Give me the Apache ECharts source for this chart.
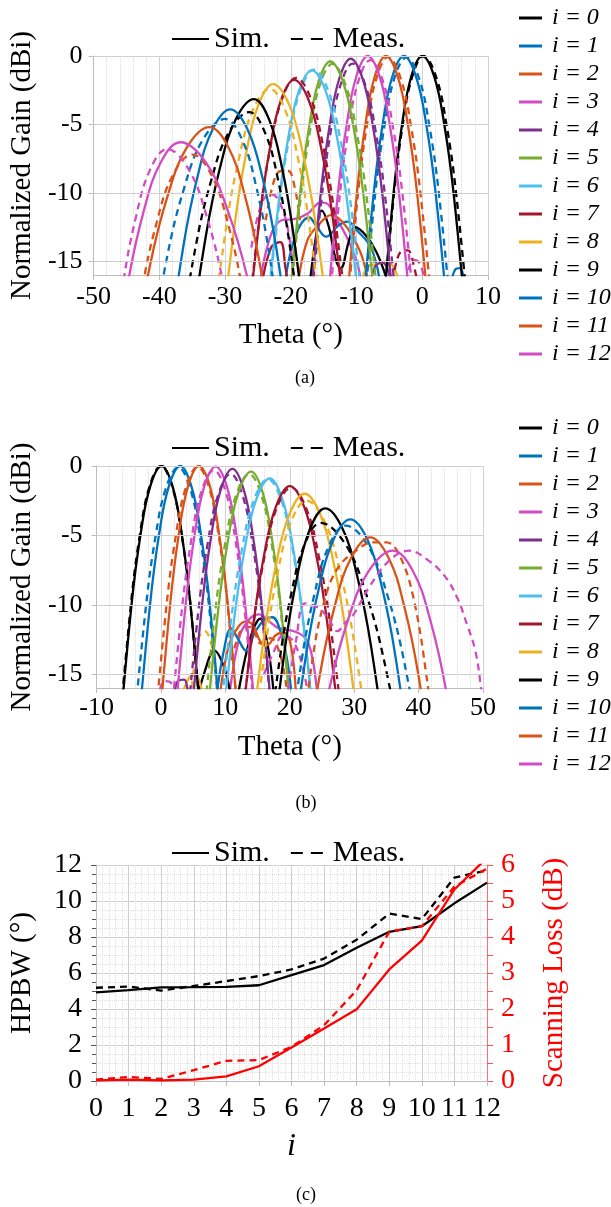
<!DOCTYPE html>
<html><head><meta charset="utf-8">
<script src="https://cdn.jsdelivr.net/npm/echarts@6.0.0/dist/echarts.min.js"></script>
<style>html,body{margin:0;padding:0;background:#fff}#c{width:611px;height:1207px}</style>
</head><body><div id="c"></div>
<script>
// ---------- data ----------
const steps = [0,1,2,3,4,5,6,7,8,9,10,11,12];
const majorY = [-15,-10,-5,0];

// panel (a): simulated main beams [theta, gain]
const simA = [
 [[-6.19,-20],[-4.36,-10],[-3.07,-5],[-1.67,-1.5],[0,0],[1.82,-1.5],[3.35,-5],[4.76,-10],[6.76,-20]],
 [[-9.3,-20],[-7.38,-10],[-6.03,-5],[-4.55,-1.5],[-2.8,0],[-0.95,-1.5],[0.61,-5],[2.03,-10],[4.06,-20]],
 [[-11.79,-20],[-9.94,-10],[-8.65,-5],[-7.23,-1.5],[-5.55,0],[-3.73,-1.5],[-2.2,-5],[-0.79,-10],[1.21,-20]],
 [[-14.72,-20],[-12.82,-10],[-11.49,-5],[-10.03,-1.5],[-8.3,0],[-6.48,-1.5],[-4.95,-5],[-3.54,-10],[-1.54,-20]],
 [[-17.4,-20.2],[-15.48,-10.2],[-14.13,-5.2],[-12.65,-1.7],[-10.9,-0.2],[-9.04,-1.7],[-7.48,-5.2],[-6.05,-10.2],[-4.01,-20.2]],
 [[-20.63,-20.4],[-18.67,-10.4],[-17.29,-5.4],[-15.79,-1.9],[-14,-0.4],[-12.04,-1.9],[-10.39,-5.4],[-8.88,-10.4],[-6.72,-20.4]],
 [[-24.08,-21.05],[-21.92,-11.05],[-20.41,-6.05],[-18.76,-2.55],[-16.8,-1.05],[-14.7,-2.55],[-12.93,-6.05],[-11.31,-11.05],[-9,-21.05]],
 [[-26.91,-21.75],[-24.72,-11.75],[-23.18,-6.75],[-21.5,-3.25],[-19.5,-1.75],[-17.26,-3.25],[-15.37,-6.75],[-13.64,-11.75],[-11.18,-21.75]],
 [[-30.89,-22.05],[-28.46,-12.05],[-26.76,-7.05],[-24.91,-3.55],[-22.7,-2.05],[-20.25,-3.55],[-18.18,-7.05],[-16.29,-12.05],[-13.6,-22.05]],
 [[-36,-23.15],[-32.92,-13.15],[-30.76,-8.15],[-28.4,-4.65],[-25.6,-3.15],[-23.29,-4.65],[-21.34,-8.15],[-19.56,-13.15],[-17.02,-23.15]],
 [[-39.34,-23.9],[-36.34,-13.9],[-34.23,-8.9],[-31.93,-5.4],[-29.2,-3.9],[-26.54,-5.4],[-24.3,-8.9],[-22.25,-13.9],[-19.32,-23.9]],
 [[-45.14,-25.2],[-41.37,-15.2],[-38.72,-10.2],[-35.83,-6.7],[-32.4,-5.2],[-29.46,-6.7],[-26.98,-10.2],[-24.71,-15.2],[-21.48,-25.2]],
 [[-47.98,-26.3],[-44.67,-16.3],[-42.35,-11.3],[-39.81,-7.8],[-36.8,-6.3],[-32.88,-7.8],[-29.58,-11.3],[-26.55,-16.3],[-22.24,-26.3]]
];
// panel (a): measured main beams
const measA = [
 [[-6.17,-20],[-4.28,-10],[-2.96,-5],[-1.52,-1.5],[0.2,0],[2.09,-1.5],[3.68,-5],[5.14,-10],[7.22,-20]],
 [[-9.16,-20.1],[-7.16,-10.1],[-5.75,-5.1],[-4.22,-1.6],[-2.4,-0.1],[-0.51,-1.6],[1.08,-5.1],[2.54,-10.1],[4.62,-20.1]],
 [[-11.7,-20.1],[-9.78,-10.1],[-8.43,-5.1],[-6.95,-1.6],[-5.2,-0.06],[-3.31,-1.6],[-1.72,-5.1],[-0.26,-10.1],[1.82,-20.1]],
 [[-14.53,-20.3],[-12.57,-10.3],[-11.19,-5.3],[-9.69,-1.8],[-7.9,-0.3],[-6.01,-1.8],[-4.42,-5.3],[-2.96,-10.3],[-0.88,-20.3]],
 [[-17.36,-20.6],[-15.36,-10.6],[-13.95,-5.6],[-12.42,-2.1],[-10.6,-0.56],[-8.67,-2.1],[-7.05,-5.6],[-5.57,-10.6],[-3.45,-20.6]],
 [[-20.59,-20.6],[-18.55,-10.6],[-17.12,-5.6],[-15.56,-2.1],[-13.7,-0.58],[-11.67,-2.1],[-9.96,-5.6],[-8.39,-10.6],[-6.16,-20.6]],
 [[-24.04,-21],[-21.81,-11],[-20.24,-6],[-18.53,-2.5],[-16.5,-1],[-14.33,-2.5],[-12.5,-6],[-10.83,-11],[-8.44,-21]],
 [[-27,-21.6],[-24.69,-11.6],[-23.07,-6.6],[-21.3,-3.1],[-19.2,-1.6],[-16.96,-3.1],[-15.07,-6.6],[-13.34,-11.6],[-10.88,-21.6]],
 [[-32.56,-22.4],[-29.79,-12.4],[-27.84,-7.4],[-25.72,-3.9],[-23.2,-2.4],[-20.89,-3.9],[-18.94,-7.4],[-17.16,-12.4],[-14.62,-22.4]],
 [[-38,-24.1],[-34.54,-14.1],[-32.11,-9.1],[-29.45,-5.6],[-26.3,-4.1],[-23.92,-5.6],[-21.91,-9.1],[-20.08,-14.1],[-17.46,-24.1]],
 [[-42.48,-24.6],[-38.78,-14.6],[-36.19,-9.6],[-33.36,-6.1],[-30,-4.6],[-27.41,-6.1],[-25.23,-9.6],[-23.23,-14.6],[-20.38,-24.6]],
 [[-45.92,-27.2],[-42.69,-17.2],[-40.42,-12.2],[-37.94,-8.7],[-35,-7.2],[-32.06,-8.7],[-29.58,-12.2],[-27.31,-17.2],[-24.08,-27.2]],
 [[-48.42,-26.8],[-45.57,-16.8],[-43.57,-11.8],[-41.39,-8.3],[-38.8,-6.8],[-35.51,-8.3],[-32.74,-11.8],[-30.2,-16.8],[-26.58,-26.8]]
];
// panel (a): side lobes (beam index per lobe)
const sideSimAIdx = [3,1,0,2,8,4,7,1];
const sideSimA = [
 [[-25,-17.5],[-23.2,-13.3],[-21.4,-12],[-19.4,-11.9],[-17.4,-11.5],[-15.4,-10.7],[-14.2,-10.9],[-12.9,-12],[-11.3,-13.4],[-9.8,-15.3],[-9.2,-17]],
 [[-21,-17],[-19.4,-13.3],[-17.2,-11.8],[-16,-12.5],[-14.6,-13.2],[-12.8,-12.4],[-11.4,-12.1],[-9.8,-12.8],[-7.8,-14],[-6.5,-16.3]],
 [[-17.2,-17],[-16.2,-13.3],[-15.3,-11.3],[-14.2,-12.5],[-13.2,-14.8],[-12.4,-15.5],[-11.2,-13.6],[-10.2,-12.5],[-8.6,-13.1],[-7,-14.3],[-5.6,-16],[-5,-17]],
 [[-19,-17],[-17.5,-13.5],[-15.5,-12.2],[-13.8,-11.6],[-12,-12.2],[-10.6,-13.2],[-9.2,-14.6],[-8.2,-16.5]],
 [[-9.5,-17],[-8.3,-15.4],[-6.8,-15.2],[-5.4,-15],[-4.2,-15.6],[-3.2,-17]],
 [[-8,-17],[-7.2,-15.4],[-6,-15.1],[-5,-16],[-4.5,-17]],
 [[-24.5,-17],[-23,-14],[-21.6,-13.6],[-20.8,-15.5],[-20.3,-17]],
 [[4.3,-17],[5,-15.6],[5.8,-15.5],[6.4,-17]]
];
const sideMeasAIdx = [12,11,7,3];
const sideMeasA = [
 [[-26,-14],[-24.3,-10.6],[-22.9,-10.1],[-21.6,-10.8],[-20.3,-13],[-19.5,-16.5]],
 [[-23.8,-12],[-22.6,-9.2],[-21.5,-8.4],[-20.4,-8.4],[-19.4,-9.6],[-18.6,-12]],
 [[-4.5,-16.5],[-3.3,-14.3],[-2.2,-14.2],[-1.2,-15.5],[-0.6,-17]],
 [[-2.5,-16.5],[-1.3,-14.9],[-0.3,-15.2],[0.3,-16.5]]
];

// panel (b): simulated main beams
const simB = [
 [[-6.53,-20],[-4.57,-10],[-3.19,-5],[-1.69,-1.5],[0.1,0],[1.82,-1.5],[3.26,-5],[4.58,-10],[6.47,-20]],
 [[-3.68,-20],[-1.7,-10],[-0.32,-5],[1.2,-1.5],[3,0],[4.75,-1.5],[6.23,-5],[7.58,-10],[9.5,-20]],
 [[-0.47,-20],[1.42,-10],[2.74,-5],[4.18,-1.5],[5.9,0],[7.62,-1.5],[9.06,-5],[10.38,-10],[12.27,-20]],
 [[1.87,-20],[3.83,-10],[5.21,-5],[6.71,-1.5],[8.5,-0.05],[10.25,-1.5],[11.73,-5],[13.08,-10],[15,-20]],
 [[4.34,-20.2],[6.34,-10.2],[7.75,-5.2],[9.28,-1.7],[11.1,-0.2],[12.85,-1.7],[14.33,-5.2],[15.68,-10.2],[17.6,-20.2]],
 [[6.72,-20.4],[8.88,-10.4],[10.39,-5.4],[12.04,-1.9],[14,-0.4],[15.79,-1.9],[17.29,-5.4],[18.67,-10.4],[20.63,-20.4]],
 [[9.1,-20.9],[11.41,-10.9],[13.03,-5.9],[14.8,-2.4],[16.9,-0.9],[18.86,-2.4],[20.51,-5.9],[22.02,-10.9],[24.18,-20.9]],
 [[11.94,-21.45],[14.33,-11.45],[16,-6.45],[17.83,-2.95],[20,-1.45],[22.24,-2.95],[24.13,-6.45],[25.86,-11.45],[28.32,-21.45]],
 [[13.46,-22],[16.08,-12],[17.91,-7],[19.92,-3.5],[22.3,-2],[24.75,-3.5],[26.82,-7],[28.71,-12],[31.4,-22]],
 [[16.66,-23.05],[19.28,-13.05],[21.11,-8.05],[23.12,-4.55],[25.5,-3.05],[28.23,-4.55],[30.53,-8.05],[32.64,-13.05],[35.64,-23.05]],
 [[19.52,-23.85],[22.45,-13.85],[24.5,-8.85],[26.74,-5.35],[29.4,-3.85],[32.1,-5.35],[34.37,-8.85],[36.45,-13.85],[39.41,-23.85]],
 [[21.32,-25.15],[24.63,-15.15],[26.95,-10.15],[29.49,-6.65],[32.5,-5.15],[35.37,-6.65],[37.79,-10.15],[40,-15.15],[43.16,-25.15]],
 [[21.96,-26.1],[26.12,-16.1],[29.03,-11.1],[32.22,-7.6],[36,-6.1],[39.15,-7.6],[41.81,-11.1],[44.24,-16.1],[47.7,-26.1]]
];
// panel (b): measured main beams
const measB = [
 [[-6.63,-20],[-4.67,-10],[-3.29,-5],[-1.79,-1.5],[0,0],[1.75,-1.5],[3.23,-5],[4.58,-10],[6.5,-20]],
 [[-4.45,-20.1],[-2.33,-10.1],[-0.85,-5.1],[0.77,-1.6],[2.7,-0.1],[4.52,-1.6],[6.05,-5.1],[7.46,-10.1],[9.46,-20.1]],
 [[-1.19,-20.1],[0.85,-10.1],[2.28,-5.1],[3.84,-1.6],[5.7,-0.06],[7.49,-1.6],[8.99,-5.1],[10.37,-10.1],[12.33,-20.1]],
 [[1.18,-20.3],[3.26,-10.3],[4.72,-5.3],[6.31,-1.8],[8.2,-0.3],[10.02,-1.8],[11.55,-5.3],[12.96,-10.3],[14.96,-20.3]],
 [[3.65,-20.6],[5.77,-10.6],[7.25,-5.6],[8.87,-2.1],[10.8,-0.56],[12.66,-2.1],[14.22,-5.6],[15.65,-10.6],[17.69,-20.6]],
 [[6.16,-20.6],[8.39,-10.6],[9.96,-5.6],[11.67,-2.1],[13.7,-0.58],[15.59,-2.1],[17.18,-5.6],[18.64,-10.6],[20.72,-20.6]],
 [[8.54,-20.95],[10.93,-10.95],[12.6,-5.95],[14.43,-2.45],[16.6,-0.95],[18.67,-2.45],[20.41,-5.95],[22,-10.95],[24.27,-20.95]],
 [[11.88,-21.55],[14.34,-11.55],[16.07,-6.55],[17.96,-3.05],[20.2,-1.55],[22.55,-3.05],[24.52,-6.55],[26.33,-11.55],[28.91,-21.55]],
 [[13.76,-22.5],[16.38,-12.5],[18.21,-7.5],[20.22,-4],[22.6,-2.5],[25.4,-4],[27.76,-7.5],[29.92,-12.5],[33,-22.5]],
 [[15.7,-24.1],[18.39,-14.1],[20.28,-9.1],[22.35,-5.6],[24.8,-4.1],[28.58,-5.6],[31.77,-9.1],[34.68,-14.1],[38.84,-24.1]],
 [[18.82,-24.3],[21.75,-14.3],[23.8,-9.3],[26.04,-5.8],[28.7,-4.3],[32.2,-5.8],[35.15,-9.3],[37.85,-14.3],[41.7,-24.3]],
 [[21.5,-22],[23.5,-14],[25.5,-9.5],[27.4,-7.4],[30,-6.2],[33,-5.5],[35,-5.5],[37,-6.4],[39.2,-9.5],[41.3,-15.4],[43,-22]],
 [[19.5,-17],[21,-12.5],[22.4,-9.9],[24.4,-10.2],[26,-11],[27.4,-11.9],[28.6,-11.3],[29.9,-10.7],[32.5,-8.6],[35.5,-6.8],[38.5,-6.1],[41.5,-6.8],[44,-7.9],[46,-9.5],[47.5,-11.4],[48.8,-13.3],[49.7,-16],[50.2,-18]]
];
const sideSimBIdx = [3,0,0,1,2,8,4];
const sideSimB = [
 [[10.5,-17],[12.2,-12.3],[13.8,-11],[15.3,-10.7],[16.8,-11.2],[18.3,-11.7],[20.6,-11.9],[22.4,-12.4],[23.4,-13.6],[24.2,-16],[24.5,-17]],
 [[11.8,-17],[13,-14],[14.3,-11.8],[15.4,-11],[16.4,-12.5],[17.2,-15],[17.6,-17]],
 [[5.5,-17],[6.8,-14.8],[8.3,-13.3],[9.8,-14.5],[10.8,-16.5]],
 [[8.5,-17],[9.8,-13.2],[10.9,-11.7],[12,-12.5],[13.2,-13.3],[14.6,-12],[16,-11.1],[17.3,-10.9],[18.6,-12],[19.6,-14],[20.4,-17]],
 [[9,-17],[10.5,-13],[12,-11.6],[13.2,-11.2],[14.3,-11.5],[15.5,-12.7],[16.5,-12.9],[17.8,-12.2],[19,-12],[20.2,-13],[21,-17]],
 [[3,-17],[4.3,-15.3],[5.3,-15.1],[6.5,-16.3],[7,-17]],
 [[2,-17],[2.6,-15.5],[3.6,-15.4],[4.3,-17]]
];
const sideMeasBIdx = [8,2,3,3];
const sideMeasB = [
 [[4.8,-16],[5.8,-12.5],[6.8,-11.9],[7.8,-12.8],[8.5,-15],[9,-17]],
 [[11,-14],[12.5,-11.8],[14,-11.6],[15.5,-12.8],[17,-12.4],[18.5,-13.6],[19.5,-16]],
 [[16,-15],[17.5,-13.4],[19,-12.2],[20.5,-12.6],[22,-14.5],[23,-17]],
 [[-0.5,-17],[0.5,-15.5],[1.5,-15.6],[2.3,-17]]
];

// panel (c)
const hpbwSim  = [4.92,5.05,5.2,5.21,5.23,5.32,5.88,6.44,7.4,8.29,8.6,9.87,11.02];
const hpbwMeas = [5.18,5.25,5.02,5.28,5.55,5.83,6.2,6.8,7.85,9.3,9.0,11.3,11.7];
const lossSim  = [0.02,0.04,0.02,0.04,0.13,0.41,0.93,1.46,1.99,3.1,3.9,5.32,6.2];
const lossMeas = [0.04,0.11,0.06,0.3,0.56,0.58,0.95,1.55,2.52,4.15,4.3,5.4,5.9];

// ---------- styles ----------
const colors = ['#000000','#0072BD','#D95319','#D24BC2','#7E2F8E','#77AC30','#4DBEEE','#A2142F','#EDB120','#000000','#0072BD','#D95319','#D24BC2'];
const FONT = "'Liberation Serif','Times New Roman',serif";
const iNames = steps.map(k => 'i = ' + k);
const DASH = [7,5];

function lineS(name, xi, yi, data, color, dashed, smooth) {
  return {type:'line', name, xAxisIndex:xi, yAxisIndex:yi, data, symbol:'none', smooth: smooth ? 0.4 : false,
    itemStyle:{color}, lineStyle:{color, width:2.3, type: dashed ? DASH : 'solid'}, clip:true, silent:true};
}
const series = [];
function beamPanel(p, sims, meass, sSim, sSimIdx, sMeas, sMeasIdx) {
  series.push({type:'line', name:'grid'+p, xAxisIndex:p, yAxisIndex:p, data:[], z:1, silent:true,
    markLine:{silent:true, symbol:'none', label:{show:false}, lineStyle:{color:'#cfcfcf', type:'solid', width:1},
      data: majorY.map(v => ({yAxis:v}))}});
  sSim.forEach((d,k) => series.push(lineS('ss'+p+'_'+k, p, p, d, colors[sSimIdx[k]], false, true)));
  sMeas.forEach((d,k) => series.push(lineS('sm'+p+'_'+k, p, p, d, colors[sMeasIdx[k]], true, true)));
  sims.forEach((d,k) => {
    series.push(lineS(iNames[k], p, p, d, colors[k], false, true));
    series.push(lineS('m'+p+'_'+k, p, p, meass[k], colors[k], true, true));
  });
}
beamPanel(0, simA, measA, sideSimA, sideSimAIdx, sideMeasA, sideMeasAIdx);
beamPanel(1, simB, measB, sideSimB, sideSimBIdx, sideMeasB, sideMeasBIdx);

const pair = (xs, ys) => xs.map((x,k) => [x, ys[k]]);
series.push(lineS('hs', 2, 2, pair(steps, hpbwSim), '#000', false, false));
series.push(lineS('hm', 2, 2, pair(steps, hpbwMeas), '#000', true, false));
series.push(lineS('ls', 2, 3, pair(steps, lossSim), '#ff0000', false, false));
series.push(lineS('lm', 2, 3, pair(steps, lossMeas), '#ff0000', true, false));
series.push({type:'line', name:'Sim.', xAxisIndex:2, yAxisIndex:2, data:[], symbol:'none', itemStyle:{color:'#000'}, lineStyle:{color:'#000', width:3}});
series.push({type:'line', name:'Meas.', xAxisIndex:2, yAxisIndex:2, data:[], symbol:'none', itemStyle:{color:'#000'}, lineStyle:{color:'#000', width:3, type:[12,8]}});

const txt = (size, extra) => Object.assign({fontSize:size, fontFamily:FONT, color:'#000'}, extra || {});

function thetaX(gi, min, max, gap, margin) {
  return {gridIndex:gi, type:'value', min, max, interval:10,
    axisLine:{show:true, onZero:false, lineStyle:{color:'#bdbdbd'}},
    axisTick:{show:true, length:5, lineStyle:{color:'#bdbdbd'}},
    axisLabel:txt(26, {margin}),
    splitLine:{show:true, lineStyle:{color:'#d2d2d2'}},
    minorTick:{show:false, splitNumber:5},
    minorSplitLine:{show:true, lineStyle:{color:'#dedede', type:'dotted'}},
    name:'Theta (°)', nameLocation:'middle', nameGap:gap, nameTextStyle:txt(29)};
}
function gainY(gi, gap, margin) {
  return {gridIndex:gi, type:'value', min:-16, max:0, interval:1,
    axisLine:{show:true, onZero:false, lineStyle:{color:'#bdbdbd'}},
    axisTick:{show:true, length:5, customValues:majorY, lineStyle:{color:'#bdbdbd'}},
    axisLabel:txt(26, {margin, customValues:majorY, formatter: v => majorY.includes(v) ? String(v) : ''}),
    splitLine:{show:true, lineStyle:{color:'#dcdcdc', type:'dotted'}},
    name:'Normalized Gain (dBi)', nameLocation:'middle', nameRotate:90, nameGap:gap, nameTextStyle:txt(29)};
}

const legendSM = top => ({data:['Sim.','Meas.'], left:166, top, itemWidth:37, itemHeight:3, itemGap:20,
  itemStyle:{opacity:0}, textStyle:txt(30), selectedMode:false});
const legendI = top => ({data:iNames, orient:'vertical', left:514, top, itemWidth:23, itemHeight:3, itemGap:4,
  icon:'rect', textStyle:txt(24, {fontStyle:'italic', lineHeight:24, padding:[0,0,0,5]}), selectedMode:false});

const option = {
  animation:false,
  backgroundColor:'#fff',
  grid:[
    {left:91, top:56, width:397, height:219},
    {left:86, top:466, width:397, height:222},
    {left:96, top:865, width:391, height:216}
  ],
  xAxis:[
    thetaX(0, -50, 10, 46, 9),
    thetaX(1, -10, 50, 45, 7),
    {gridIndex:2, type:'value', min:0, max:12, interval:1,
     axisLine:{show:true, onZero:false, lineStyle:{color:'#bdbdbd'}},
     axisTick:{show:true, length:5, lineStyle:{color:'#bdbdbd'}},
     axisLabel:txt(28, {margin:14}),
     splitLine:{show:true, lineStyle:{color:'#cfcfcf'}},
     minorTick:{show:false, splitNumber:5},
     minorSplitLine:{show:true, lineStyle:{color:'#e0e0e0', type:'dotted'}},
     name:'i', nameLocation:'middle', nameGap:50, nameTextStyle:txt(32, {fontStyle:'italic'})}
  ],
  yAxis:[
    gainY(0, 51, 11),
    gainY(1, 47, 14),
    {gridIndex:2, type:'value', min:0, max:12, interval:2,
     axisLine:{show:true, onZero:false, lineStyle:{color:'#bdbdbd'}},
     axisTick:{show:true, length:5, lineStyle:{color:'#555'}},
     minorTick:{show:true, splitNumber:4, length:4, lineStyle:{color:'#555'}},
     axisLabel:txt(28, {margin:14}),
     splitLine:{show:true, lineStyle:{color:'#cfcfcf'}},
     minorSplitLine:{show:true, lineStyle:{color:'#e0e0e0', type:'dotted'}},
     name:'HPBW (°)', nameLocation:'middle', nameRotate:90, nameGap:59, nameTextStyle:txt(29)},
    {gridIndex:2, type:'value', position:'right', min:0, max:6, interval:1,
     axisLine:{show:true, onZero:false, lineStyle:{color:'#ff7070'}},
     axisTick:{show:true, length:6, lineStyle:{color:'#ff5050'}},
     minorTick:{show:true, splitNumber:2, length:6, lineStyle:{color:'#ff5050'}},
     axisLabel:txt(28, {margin:14, color:'#ff0000'}),
     splitLine:{show:false},
     name:'Scanning Loss (dB)', nameLocation:'middle', nameRotate:90, nameGap:53, nameTextStyle:txt(29, {color:'#ff0000'})}
  ],
  legend:[legendSM(19), legendSM(428), legendSM(833), legendI(1), legendI(411)],
  graphic:[
    {type:'text', style:{text:'(a)', x:305, y:378, align:'center', verticalAlign:'middle', fontSize:18, fontFamily:FONT, fill:'#000'}},
    {type:'text', style:{text:'(b)', x:306, y:803, align:'center', verticalAlign:'middle', fontSize:18, fontFamily:FONT, fill:'#000'}},
    {type:'text', style:{text:'(c)', x:306, y:1195, align:'center', verticalAlign:'middle', fontSize:18, fontFamily:FONT, fill:'#000'}}
  ],
  series
};
const chart = echarts.init(document.getElementById('c'), null, {renderer:'canvas'});
chart.setOption(option);
</script></body></html>
